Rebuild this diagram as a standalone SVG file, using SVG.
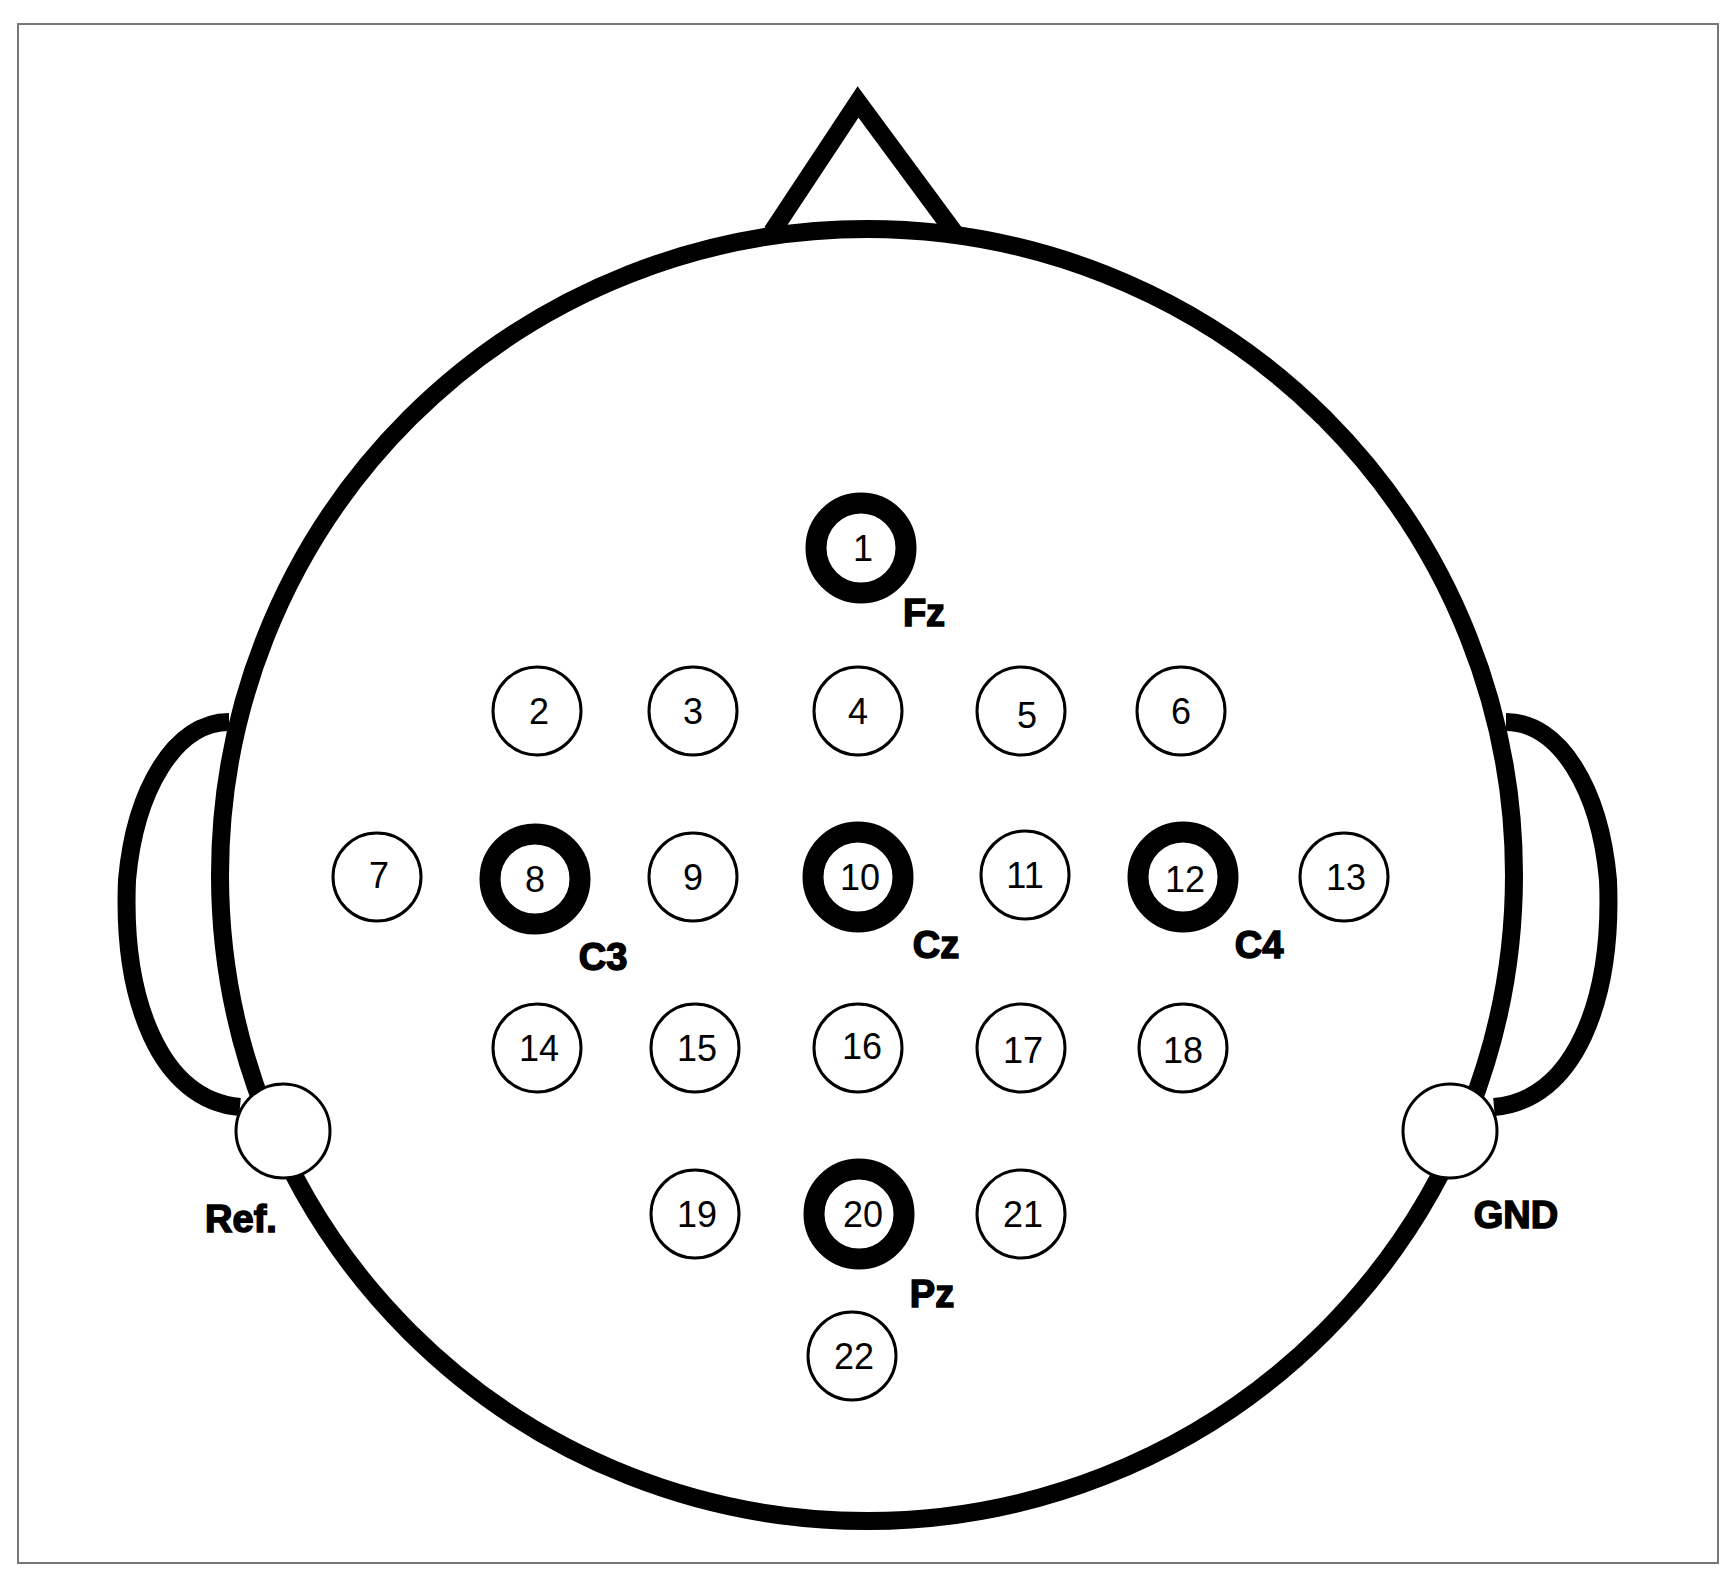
<svg xmlns="http://www.w3.org/2000/svg" width="1736" height="1582" viewBox="0 0 1736 1582">
<style>
.s{fill:none;stroke:#000;stroke-width:18;stroke-linejoin:miter}
.e{fill:#fff;stroke:#000;stroke-width:3}
.t{fill:#fff;stroke:#000;stroke-width:21}
.n{font-family:"Liberation Sans",Arial,sans-serif;font-size:36px;text-anchor:middle;dominant-baseline:central}
.l{font-family:"Liberation Sans",Arial,sans-serif;font-size:38px;font-weight:bold;text-anchor:middle;stroke:#000;stroke-width:1.5}
</style>
<rect x="0" y="0" width="1736" height="1582" fill="#fff"/>
<rect x="18" y="24" width="1700" height="1539" fill="none" stroke="#777" stroke-width="2"/>
<g id="head">
<polyline class="s" points="772,232 858,102 954,232"/>
<path class="s" d="M229,722 C175,722 135,790 127,880 C122,1000 160,1100 240,1107"/>
<path class="s" d="M1506,722 C1560,722 1600,790 1608,880 C1613,1000 1575,1100 1494,1107"/>
<ellipse class="s" cx="867" cy="875" rx="647" ry="646"/>
</g>
<g id="ref"><circle class="e" cx="283" cy="1131" r="47"/><text class="l" x="241" y="1232">Ref.</text></g>
<g id="gnd"><circle class="e" cx="1450" cy="1131" r="47"/><text class="l" x="1516" y="1228">GND</text></g>
<g id="e1"><circle class="t" cx="861" cy="548" r="45"/><text class="n" x="863" y="548">1</text><text class="l" x="924" y="626">Fz</text></g>
<g id="e2"><circle class="e" cx="537" cy="711" r="44"/><text class="n" x="539" y="711">2</text></g>
<g id="e3"><circle class="e" cx="693" cy="711" r="44"/><text class="n" x="693" y="711">3</text></g>
<g id="e4"><circle class="e" cx="858" cy="711" r="44"/><text class="n" x="858" y="711">4</text></g>
<g id="e5"><circle class="e" cx="1021" cy="711" r="44"/><text class="n" x="1027" y="715">5</text></g>
<g id="e6"><circle class="e" cx="1181" cy="711" r="44"/><text class="n" x="1181" y="711">6</text></g>
<g id="e7"><circle class="e" cx="377" cy="877" r="44"/><text class="n" x="379" y="875">7</text></g>
<g id="e8"><circle class="t" cx="535" cy="879" r="45"/><text class="n" x="535" y="879">8</text><text class="l" x="603" y="970">C3</text></g>
<g id="e9"><circle class="e" cx="693" cy="877" r="44"/><text class="n" x="693" y="877">9</text></g>
<g id="e10"><circle class="t" cx="858" cy="877" r="45"/><text class="n" x="860" y="877">10</text><text class="l" x="936" y="958">Cz</text></g>
<g id="e11"><circle class="e" cx="1025" cy="875" r="44"/><text class="n" x="1025" y="875">11</text></g>
<g id="e12"><circle class="t" cx="1183" cy="877" r="45"/><text class="n" x="1185" y="879">12</text><text class="l" x="1259" y="958">C4</text></g>
<g id="e13"><circle class="e" cx="1344" cy="877" r="44"/><text class="n" x="1346" y="877">13</text></g>
<g id="e14"><circle class="e" cx="537" cy="1048" r="44"/><text class="n" x="539" y="1048">14</text></g>
<g id="e15"><circle class="e" cx="695" cy="1048" r="44"/><text class="n" x="697" y="1048">15</text></g>
<g id="e16"><circle class="e" cx="858" cy="1048" r="44"/><text class="n" x="862" y="1046">16</text></g>
<g id="e17"><circle class="e" cx="1021" cy="1048" r="44"/><text class="n" x="1023" y="1050">17</text></g>
<g id="e18"><circle class="e" cx="1183" cy="1048" r="44"/><text class="n" x="1183" y="1050">18</text></g>
<g id="e19"><circle class="e" cx="695" cy="1214" r="44"/><text class="n" x="697" y="1214">19</text></g>
<g id="e20"><circle class="t" cx="859" cy="1214" r="45"/><text class="n" x="863" y="1214">20</text><text class="l" x="932" y="1307">Pz</text></g>
<g id="e21"><circle class="e" cx="1021" cy="1214" r="44"/><text class="n" x="1023" y="1214">21</text></g>
<g id="e22"><circle class="e" cx="852" cy="1356" r="44"/><text class="n" x="854" y="1356">22</text></g>
<g id="connectors"/>
</svg>
